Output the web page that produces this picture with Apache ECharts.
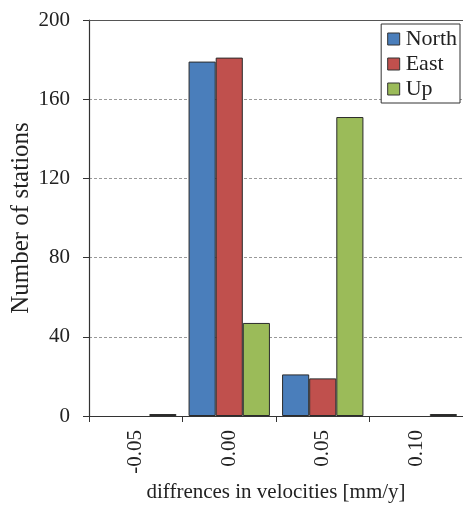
<!DOCTYPE html>
<html><head><meta charset="utf-8">
<script src="https://cdn.jsdelivr.net/npm/echarts@6/dist/echarts.min.js"></script>
<style>html,body{margin:0;padding:0;background:#fff}#c{width:463px;height:512px}</style>
</head><body><div id="c"></div>
<script>
const categories = ['-0.05', '0.00', '0.05', '0.10'];
const north = [0, 179, 21, 0];
const east = [0, 181, 19, 0];
const up = [1, 47, 151, 1];
const yTicks = [0, 40, 80, 120, 160, 200];

const font = 'Liberation Serif, Times New Roman, serif';
const chart = echarts.init(document.getElementById('c'), null, {renderer: 'canvas'});
const border = {borderColor: '#2b2b2b', borderWidth: 1};
const prep = arr => arr.map(v => v === 0 ? {value: v, itemStyle: {borderWidth: 0}} : v);
chart.setOption({
  animation: false,
  backgroundColor: '#fff',
  textStyle: {fontFamily: font},
  grid: {left: 89, right: 0, top: 20, bottom: 96, containLabel: false, outerBoundsMode: 'none'},
  legend: {
    data: ['North', 'East', 'Up'],
    orient: 'vertical', right: 3, top: 24,
    backgroundColor: '#fff', borderColor: '#333', borderWidth: 1,
    padding: [4, 3, 3, 6], itemGap: 3,
    icon: 'rect', itemWidth: 12, itemHeight: 12,
    itemStyle: {borderColor: '#333', borderWidth: 1},
    textStyle: {fontFamily: font, fontSize: 22, color: '#222', padding: [0, 0, 0, 1]}
  },
  xAxis: [{
    type: 'category', data: categories, position: 'bottom',
    axisLine: {lineStyle: {color: '#333', width: 1.2}},
    axisTick: {show: true, length: 6, lineStyle: {color: '#333'}},
    axisLabel: {rotate: 90, margin: 14, fontFamily: font, fontSize: 21, color: '#222'},
    name: 'diffrences in velocities [mm/y]', nameLocation: 'middle', nameGap: 66,
    nameMoveOverlap: false,
    nameTextStyle: {fontFamily: font, fontSize: 21, color: '#222'}
  }, {
    type: 'category', data: categories, position: 'top',
    axisLine: {show: true, lineStyle: {color: '#555', width: 1}},
    axisTick: {show: false}, axisLabel: {show: false}
  }],
  yAxis: {
    type: 'value', min: 0, max: 200, interval: 40,
    axisLine: {show: true, lineStyle: {color: '#333', width: 1.2}},
    axisTick: {show: true, length: 6, lineStyle: {color: '#333'}},
    axisLabel: {fontFamily: font, fontSize: 21, color: '#222', margin: 19,
      formatter: v => yTicks.includes(v) ? String(v) : ''},
    splitLine: {show: true, lineStyle: {color: '#999', type: [3, 2], width: 1}},
    name: 'Number of stations', nameLocation: 'middle', nameGap: 55, nameRotate: 90,
    nameMoveOverlap: false,
    nameTextStyle: {fontFamily: font, fontSize: 25, color: '#222'}
  },
  series: [
    {name: 'North', type: 'bar', data: prep(north), barGap: '0%', barCategoryGap: '13%',
      itemStyle: Object.assign({color: '#4a7ebb'}, border)},
    {name: 'East', type: 'bar', data: prep(east), barGap: '0%', barCategoryGap: '13%',
      itemStyle: Object.assign({color: '#c0504d'}, border)},
    {name: 'Up', type: 'bar', data: prep(up), barGap: '0%', barCategoryGap: '13%',
      itemStyle: Object.assign({color: '#9bbb59'}, border)}
  ]
});
</script></body></html>
